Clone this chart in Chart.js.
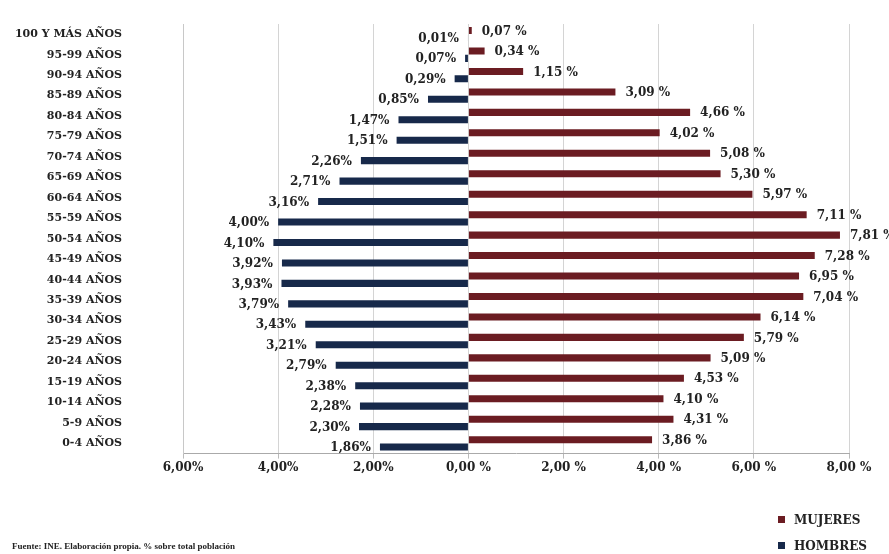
<!DOCTYPE html>
<html>
<head>
<meta charset="utf-8">
<script src="https://cdn.jsdelivr.net/npm/chart.js@4.4.1/dist/chart.umd.min.js"></script>
<style>
  html, body { margin:0; padding:0; background:#fff; }
  #wrap { position:relative; width:889px; height:554px; }
  #pyramid { position:absolute; left:0; top:0; }
  .legend { position:absolute; left:778px; font:bold 12px "DejaVu Serif", serif; color:#222; }
  .legend span.sw { display:inline-block; width:7px; height:7px; margin-right:9px; vertical-align:1px; }
  .source { position:absolute; left:12px; top:541px; font:bold 9px "Liberation Serif", serif; color:#222; white-space:nowrap; }
</style>
</head>
<body>
<div id="wrap">
  <canvas id="pyramid" width="889" height="554"></canvas>
  <div class="legend" style="top:513px"><span class="sw" id="swM"></span>MUJERES</div>
  <div class="legend" style="top:539px"><span class="sw" id="swH"></span>HOMBRES</div>
  <div class="source">Fuente: INE. Elaboración propia. % sobre total población</div>
</div>
<script>
const ageGroups = ["100 Y MÁS AÑOS","95-99 AÑOS","90-94 AÑOS","85-89 AÑOS","80-84 AÑOS","75-79 AÑOS",
  "70-74 AÑOS","65-69 AÑOS","60-64 AÑOS","55-59 AÑOS","50-54 AÑOS","45-49 AÑOS","40-44 AÑOS",
  "35-39 AÑOS","30-34 AÑOS","25-29 AÑOS","20-24 AÑOS","15-19 AÑOS","10-14 AÑOS","5-9 AÑOS","0-4 AÑOS"];
const mujeres = [0.07,0.34,1.15,3.09,4.66,4.02,5.08,5.30,5.97,7.11,7.81,7.28,6.95,7.04,6.14,5.79,5.09,4.53,4.10,4.31,3.86];
const hombres = [0.01,0.07,0.29,0.85,1.47,1.51,2.26,2.71,3.16,4.00,4.10,3.92,3.93,3.79,3.43,3.21,2.79,2.38,2.28,2.30,1.86];
const xMin = -6, xMax = 8, xStep = 2;

const colMujeres = "#6b1c22";
const colHombres = "#17294a";
document.getElementById("swM").style.background = colMujeres;
document.getElementById("swH").style.background = colHombres;

function fmtPct(v){
  const s = Math.abs(v).toFixed(2).replace(".", ",");
  return v < 0 ? s + "%" : s + " %";
}

// value labels next to each bar end
const barLabels = {
  id: "barLabels",
  afterDatasetsDraw(chart){
    const ctx = chart.ctx;
    ctx.save();
    ctx.font = "bold 12px 'DejaVu Serif', serif";
    ctx.fillStyle = "#222";
    ctx.textBaseline = "middle";
    chart.data.datasets.forEach((ds, i) => {
      chart.getDatasetMeta(i).data.forEach((bar, j) => {
        const v = ds.data[j];
        if (v < 0){
          ctx.textAlign = "right";
          ctx.fillText(fmtPct(v), bar.x - 9, bar.y + 1);
        } else {
          ctx.textAlign = "left";
          ctx.fillText(fmtPct(v), bar.x + 10, bar.y + 1);
        }
      });
    });
    ctx.restore();
  }
};

new Chart(document.getElementById("pyramid"), {
  type: "bar",
  data: {
    labels: ageGroups,
    datasets: [
      { label: "MUJERES", data: mujeres, backgroundColor: colMujeres },
      { label: "HOMBRES", data: hombres.map(v => -v), backgroundColor: colHombres }
    ]
  },
  options: {
    indexAxis: "y",
    responsive: false,
    animation: false,
    categoryPercentage: 0.72,
    barPercentage: 0.96,
    layout: { padding: { left: 10, right: 40, top: 24, bottom: 77 } },
    plugins: { legend: { display: false }, tooltip: { enabled: false } },
    scales: {
      x: {
        min: xMin, max: xMax,
        ticks: {
          stepSize: xStep, color: "#222", padding: 2,
          font: { family: "DejaVu Serif", weight: "bold", size: 12 },
          callback: v => fmtPct(v)
        },
        grid: { color: "#d4d4d4", tickLength: 5, tickColor: "#bbb" },
        border: { color: "#aaa" }
      },
      y: {
        afterFit: s => { s.width = 173; },
        ticks: {
          color: "#222", padding: 4, autoSkip: false,
          font: { family: "DejaVu Serif", weight: "bold", size: 11 }
        },
        grid: { display: true, drawOnChartArea: false, drawTicks: true, tickLength: 57, tickColor: "rgba(0,0,0,0)" },
        border: { color: "#c8c8c8" }
      }
    }
  },
  plugins: [barLabels]
});
</script>
</body>
</html>
